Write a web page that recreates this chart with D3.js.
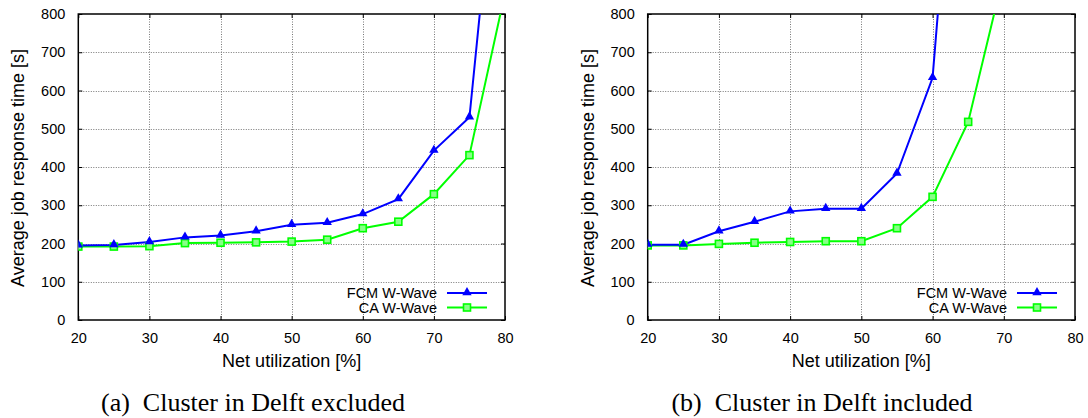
<!DOCTYPE html>
<html>
<head>
<meta charset="utf-8">
<script src="https://cdn.jsdelivr.net/npm/d3@7"></script>
<style>
  html, body { margin: 0; padding: 0; background: #fff; }
  svg { display: block; }
  text { font-family: "Liberation Sans", Arial, sans-serif; fill: #000; }
  .cap { font-family: "Liberation Serif", "Times New Roman", serif; white-space: pre; }
</style>
</head>
<body>
<svg id="chart" width="1088" height="418"></svg>
<script>
// ---- data ----
const xTicks = [20, 30, 40, 50, 60, 70, 80];
const yTicks = [0, 100, 200, 300, 400, 500, 600, 700, 800];
const seriesNames = ["FCM W-Wave", "CA W-Wave"];

// (a) Cluster in Delft excluded
const utilExcluded = [20, 25, 30, 35, 40, 45, 50, 55, 60, 65, 70, 75, 80];
const fcmExcluded  = [195, 196, 204, 216, 221, 232, 249, 254, 277, 316, 443, 530, 1460];
const caExcluded   = [192, 192, 193, 201, 202, 203, 205, 210, 240, 257, 329, 431, 855];

// (b) Cluster in Delft included
const utilFcmIncluded = [20, 25, 30, 35, 40, 45, 50, 55, 60, 65];
const fcmIncluded     = [197, 197, 232, 257, 284, 291, 291, 383, 633, 1770];
const utilCaIncluded  = [20, 25, 30, 35, 40, 45, 50, 55, 60, 65, 70];
const caIncluded      = [195, 195, 199, 202, 204, 206, 206, 240, 322, 518, 905];

const captions = ["(a)  Cluster in Delft excluded", "(b)  Cluster in Delft included"];
const xLabel = "Net utilization [%]";
const yLabel = "Average job response time [s]";

// ---- drawing ----
const svg = d3.select("#chart");
const BLUE = "#0000ff", GREEN = "#00ff00";

function drawPanel(idx, x0, x1, fcmX, fcmY, caX, caY, captionX) {
  const top = 14, bottom = 320;
  const x = d3.scaleLinear().domain([20, 80]).range([x0, x1]);
  const y = d3.scaleLinear().domain([0, 800]).range([bottom, top]);
  const g = svg.append("g");

  const clipId = "clip" + idx;
  g.append("clipPath").attr("id", clipId)
    .append("rect").attr("x", x0).attr("y", top).attr("width", x1 - x0).attr("height", bottom - top);

  // grid
  const grid = g.append("g").attr("stroke", "#777").attr("stroke-width", 1).attr("stroke-dasharray", "1,1.5");
  grid.selectAll("line.gx").data(xTicks.slice(1, -1)).join("line")
    .attr("x1", d => Math.round(x(d)) + 0.5).attr("x2", d => Math.round(x(d)) + 0.5)
    .attr("y1", top).attr("y2", bottom);
  grid.selectAll("line.gy").data(yTicks.slice(1, -1)).join("line")
    .attr("x1", x0).attr("x2", x1)
    .attr("y1", d => Math.round(y(d)) + 0.5).attr("y2", d => Math.round(y(d)) + 0.5);

  // axes (ticks inward, mirrored)
  const axStyle = sel => {
    sel.select(".domain").remove();
    sel.selectAll("line").attr("stroke", "#000").attr("stroke-width", 1);
    sel.selectAll("text").attr("font-size", "14.5px").attr("fill", "#000")
      .attr("font-family", "Liberation Sans, Arial, sans-serif");
  };
  g.append("g").attr("transform", `translate(0,${bottom})`)
    .call(d3.axisBottom(x).tickValues(xTicks).tickSizeInner(-4).tickPadding(13))
    .call(axStyle)
    .selectAll("text").attr("dy", "0.71em");
  g.append("g").attr("transform", `translate(0,${top})`)
    .call(d3.axisTop(x).tickValues(xTicks).tickSizeInner(-4).tickFormat(""))
    .call(axStyle);
  g.append("g").attr("transform", `translate(${x0},0)`)
    .call(d3.axisLeft(y).tickValues(yTicks).tickSizeInner(-4).tickPadding(13))
    .call(axStyle);
  g.append("g").attr("transform", `translate(${x1},0)`)
    .call(d3.axisRight(y).tickValues(yTicks).tickSizeInner(-4).tickFormat(""))
    .call(axStyle);

  // frame
  g.append("rect").attr("x", x0).attr("y", top).attr("width", x1 - x0).attr("height", bottom - top)
    .attr("fill", "none").attr("stroke", "#000").attr("stroke-width", 1.5);

  const line = d3.line().x(d => x(d[0])).y(d => y(d[1]));
  const plot = g.append("g").attr("clip-path", `url(#${clipId})`);
  const fcmData = fcmX.map((v, i) => [v, fcmY[i]]);
  const caData = caX.map((v, i) => [v, caY[i]]);

  plot.append("path").datum(caData).attr("d", line)
    .attr("fill", "none").attr("stroke", GREEN).attr("stroke-width", 2);
  plot.append("path").datum(fcmData).attr("d", line)
    .attr("fill", "none").attr("stroke", BLUE).attr("stroke-width", 2);

  const tri = d3.symbol().type(d3.symbolTriangle).size(38);
  plot.selectAll("rect.sq").data(caData.filter(d => d[1] <= 800)).join("rect")
    .attr("x", d => x(d[0]) - 3.5).attr("y", d => y(d[1]) - 3.5)
    .attr("width", 7).attr("height", 7)
    .attr("fill", "#88ff88").attr("stroke", GREEN).attr("stroke-width", 1.6);
  plot.selectAll("path.tri").data(fcmData.filter(d => d[1] <= 800)).join("path")
    .attr("d", tri).attr("transform", d => `translate(${x(d[0])},${y(d[1]) - 0.5})`)
    .attr("fill", BLUE);

  // legend
  const rows = [293, 307.5];
  seriesNames.forEach((name, i) => {
    const ly = rows[i];
    g.append("text").attr("x", x1 - 68).attr("y", ly + 5).attr("text-anchor", "end")
      .attr("font-size", "14.5px").text(name);
    g.append("line").attr("x1", x1 - 58).attr("x2", x1 - 18).attr("y1", ly).attr("y2", ly)
      .attr("stroke", i === 0 ? BLUE : GREEN).attr("stroke-width", 2);
    if (i === 0) {
      g.append("path").attr("d", tri).attr("transform", `translate(${x1 - 38},${ly - 0.5})`).attr("fill", BLUE);
    } else {
      g.append("rect").attr("x", x1 - 38 - 3.5).attr("y", ly - 3.5).attr("width", 7).attr("height", 7)
        .attr("fill", "#88ff88").attr("stroke", GREEN).attr("stroke-width", 1.6);
    }
  });

  // axis labels
  g.append("text").attr("x", (x0 + x1) / 2).attr("y", 367).attr("text-anchor", "middle")
    .attr("font-size", "18px").text(xLabel);
  g.append("text").attr("transform", `translate(${x0 - 54},${(top + bottom) / 2 + 1}) rotate(-90)`)
    .attr("text-anchor", "middle").attr("font-size", "18px").text(yLabel);

  // caption
  g.append("text").attr("class", "cap").attr("x", captionX).attr("y", 411)
    .attr("text-anchor", "middle").attr("font-size", "26px").text(captions[idx]);
}

drawPanel(0, 78.3, 505, utilExcluded, fcmExcluded, utilExcluded, caExcluded, 253);
drawPanel(1, 647.7, 1075, utilFcmIncluded, fcmIncluded, utilCaIncluded, caIncluded, 822);
</script>
</body>
</html>
